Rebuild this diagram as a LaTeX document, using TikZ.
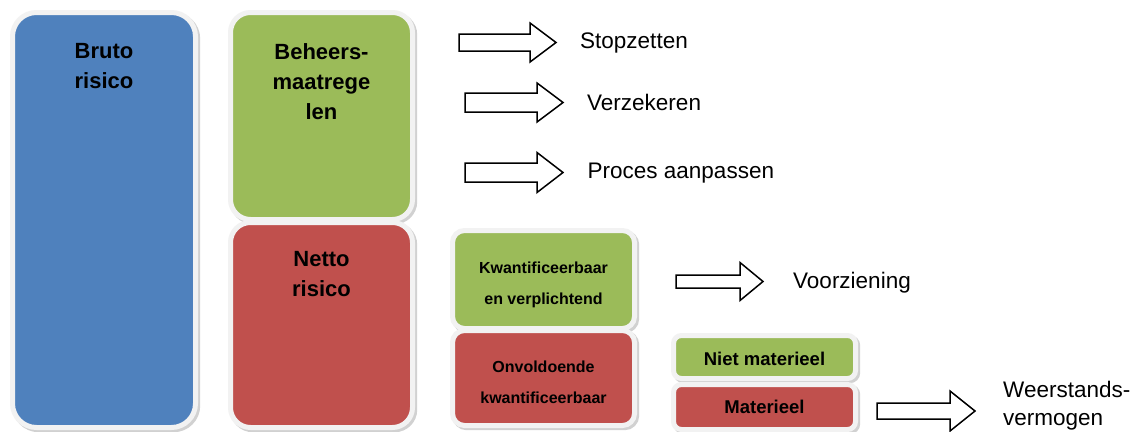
\documentclass[tikz,border=0pt]{standalone}
\usepackage{fontspec}
\setmainfont{Liberation Sans}
\usetikzlibrary{calc}
\definecolor{cblue}{HTML}{4F81BD}
\definecolor{cgreen}{HTML}{9BBB59}
\definecolor{cred}{HTML}{C0504D}
\definecolor{frame}{HTML}{F2F2F2}
\newcommand\blockarrow[7]{%
  \coordinate (#1) at (#2,#5);
  \draw[barrowline] ($(#1)+(0,-#6)$) -- ($(#1)+({#3-#2},-#6)$) -- ($(#1)+({#3-#2},-#7)$) -- ($(#1)+({#4-#2},0)$) -- ($(#1)+({#3-#2},#7)$) -- ($(#1)+({#3-#2},#6)$) -- ($(#1)+(0,#6)$) -- cycle;}
\begin{document}
\begin{tikzpicture}[x=1pt,y=-1pt,
  box/.style={draw=frame, line width=5pt, rounded corners=#1, inner sep=0pt, outer sep=0pt,
    preaction={draw=black!40, draw opacity=0.45, line width=5pt, transform canvas={shift={(2.2,2.2)}}}},
  box/.default=12pt,
  biglab/.style={font=\bfseries\fontsize{22}{30}\selectfont, align=center, inner sep=0pt, anchor=north},
  smalllab/.style={font=\bfseries\fontsize{16}{31}\selectfont, align=center, inner sep=0pt, anchor=north},
  midlab/.style={font=\bfseries\fontsize{18.5}{22}\selectfont, inner sep=0pt, anchor=base},
  txt/.style={font=\fontsize{22.5}{28}\selectfont, inner sep=0pt, anchor=base west, align=left},
  barrowline/.style={draw=black, line width=1.5pt, fill=white, line join=miter}]
\fill[white] (0,0) rectangle (1135,431);
\useasboundingbox (0,0) rectangle (1135,431);

% boxes
\node[box=24pt, fill=cblue, minimum width=183pt, minimum height=415pt] (bruto) at (104,220) {};
\node[box=20pt, fill=cgreen, minimum width=182pt, minimum height=207pt] (beheers) at (321.5,116) {};
\node[box=20pt, fill=cred, minimum width=182pt, minimum height=205pt] (netto) at (321.5,325) {};
\node[box=12pt, fill=cgreen, minimum width=182pt, minimum height=98pt] (kwant) at (543.5,279.5) {};
\node[box=12pt, fill=cred, minimum width=182pt, minimum height=95pt] (onvold) at (543.5,378) {};
\node[box=8pt, fill=cgreen, minimum width=182pt, minimum height=43pt] (niet) at (764.5,357) {};
\node[box=8pt, fill=cred, minimum width=182pt, minimum height=45pt] (mat) at (764.5,407) {};

% box labels
\node[biglab] (tbruto) at (104,43.3) {Bruto\\risico};
\node[biglab] (tbeheers) at (321.5,43.3) {Beheers-\\maatrege\\len};
\node[biglab] (tnetto) at (321.5,251.3) {Netto\\risico};
\node[smalllab] (tkwant) at (543.5,261.8) {Kwantificeerbaar\\en verplichtend};
\node[smalllab] (tonvold) at (543.5,360.5) {Onvoldoende\\kwantificeerbaar};
\node[midlab] (tniet) at (764.5,365) {Niet materieel};
\node[midlab] (tmat) at (764.5,413.3) {Materieel};

% block arrows
\blockarrow{a1}{459}{530}{556}{42.5}{8.5}{19.5}
\blockarrow{a2}{465}{537}{563}{102.5}{9.5}{19.5}
\blockarrow{a3}{465}{537}{563}{172.5}{9.5}{20}
\blockarrow{a4}{676}{740}{763}{281.5}{6.5}{19}
\blockarrow{a5}{877}{950}{975}{411}{8}{20}

% arrow texts
\node[txt] (stop) at (580,48) {Stopzetten};
\node[txt] (verz) at (587,110) {Verzekeren};
\node[txt] (proc) at (587.5,178.3) {Proces aanpassen};
\node[txt] (voor) at (793,288) {Voorziening};
\node[txt, anchor=north west] (weer) at (1003,381) {Weerstands-\\vermogen};
\end{tikzpicture}
\end{document}
